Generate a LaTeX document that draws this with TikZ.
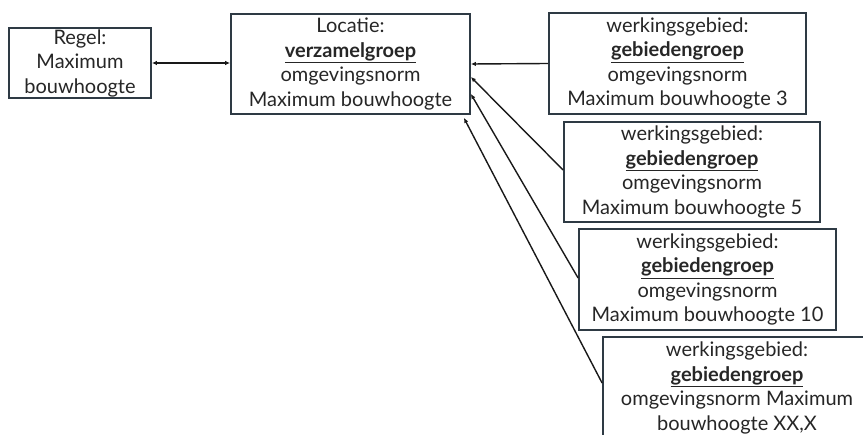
\documentclass[tikz,border=0pt]{standalone}
\usepackage{fontspec}
\setmainfont{Lato}
\usetikzlibrary{arrows.meta,calc}
\definecolor{boxc}{HTML}{2E3A44}
\tikzset{
  box/.style={draw=boxc, line width=1.8pt, rectangle, align=center, inner sep=0pt,
    font=\fontsize{20}{24.5}\selectfont, text=black!85},
  link/.style={line width=1.4pt, draw=black!90, -{Latex[length=5pt,width=4.5pt]}},
  dlink/.style={line width=1.4pt, draw=black!90, {Latex[length=5pt,width=4.5pt]}-{Latex[length=5pt,width=4.5pt]}}
}
\newcommand{\ubf}[1]{\underline{\textbf{#1}}}
\begin{document}
\begin{tikzpicture}[x=1pt,y=-1pt]
\useasboundingbox (0,0) rectangle (863,435);
\clip (0,0) rectangle (863,435);
\node[box, minimum width=142pt, minimum height=70pt] (regel) at (80,63) {Regel:\\Maximum\\bouwhoogte};
\node[box, minimum width=239pt, minimum height=100pt] (loc) at (350.5,64) {Locatie:\\\ubf{verzamelgroep}\\omgevingsnorm\\Maximum bouwhoogte};
\node[box, minimum width=257pt, minimum height=101pt] (b3) at (677.5,63.5) {werkingsgebied:\\\ubf{gebiedengroep}\\omgevingsnorm\\Maximum bouwhoogte 3};
\node[box, minimum width=256pt, minimum height=100pt] (b5) at (692,172) {werkingsgebied:\\\ubf{gebiedengroep}\\omgevingsnorm\\Maximum bouwhoogte 5};
\node[box, minimum width=257pt, minimum height=101pt] (b10) at (707.5,279.5) {werkingsgebied:\\\ubf{gebiedengroep}\\omgevingsnorm\\Maximum bouwhoogte 10};
\node[box, minimum width=268pt, minimum height=102pt] (bxx) at (737,388) {werkingsgebied:\\\ubf{gebiedengroep}\\omgevingsnorm Maximum\\bouwhoogte XX,X};
\coordinate (l5) at ($(loc.east)+(0,13)$);
\coordinate (l10) at ($(loc.east)+(0,30)$);
\coordinate (lxx) at ($(loc.south east)+(-7,3)$);
\coordinate (s5) at ($(b5.west)+(0,-2)$);
\coordinate (s10) at ($(b10.west)+(0,-1.5)$);
\coordinate (sxx) at ($(bxx.west)+(0,-5)$);
\draw[dlink] (regel.east) -- (regel.east -| loc.west);
\draw[link] (b3.west) -- (loc.east);
\draw[link] (s5) -- (l5);
\draw[link] (s10) -- (l10);
\draw[link] (sxx) -- (lxx);
\end{tikzpicture}
\end{document}
